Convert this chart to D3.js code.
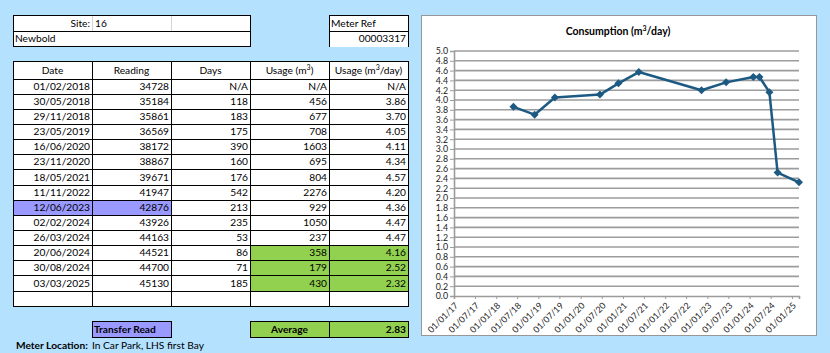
<!DOCTYPE html>
<html>
<head>
<meta charset="utf-8">
<script src="https://cdn.jsdelivr.net/npm/d3@7"></script>
<style>
  html, body { margin: 0; padding: 0; background: #b4e1fe; }
  svg { display: block; font-family: Lato, "Open Sans", sans-serif; }
  .cell-text { font-size: 10.2px; fill: #000; }
  .bold { font-weight: bold; }
  .grid line { stroke: #9c9c9c; stroke-width: 1.6; }
</style>
</head>
<body>
<div id="chart"></div>
<script>
// table data
const dates = ['01/02/2018', '30/05/2018', '29/11/2018', '23/05/2019', '16/06/2020', '23/11/2020',
  '18/05/2021', '11/11/2022', '12/06/2023', '02/02/2024', '26/03/2024', '20/06/2024',
  '30/08/2024', '03/03/2025'];
const readings = [34728, 35184, 35861, 36569, 38172, 38867, 39671, 41947, 42876, 43926, 44163,
  44521, 44700, 45130];
const days = ['N/A', 118, 183, 175, 390, 160, 176, 542, 213, 235, 53, 86, 71, 185];
const usage = ['N/A', 456, 677, 708, 1603, 695, 804, 2276, 929, 1050, 237, 358, 179, 430];
const usagePerDay = ['N/A', 3.86, 3.70, 4.05, 4.11, 4.34, 4.57, 4.20, 4.36, 4.47, 4.47, 4.16,
  2.52, 2.32];

const transferRows = ['12/06/2023'];
const averageRows = ['20/06/2024', '30/08/2024', '03/03/2025'];
const average = 2.83;

const site = '16';
const siteName = 'Newbold';
const meterRef = '00003317';
const meterLocation = 'In Car Park, LHS first Bay';

const headers = ['Date', 'Reading', 'Days', 'Usage (m|3|)', 'Usage (m|3|/day)'];

const W = 830, H = 353;
const PURPLE = '#9999ff', GREEN = '#92d050';

const svg = d3.select('#chart').append('svg')
  .attr('width', W)
  .attr('height', H);

svg.append('rect').attr('width', W).attr('height', H).attr('fill', '#b4e1fe');

const colX = [13, 92, 171, 250, 329, 408];
const colW = 79;

function addText(g, x, y, str, anchor, bold) {
  let t = g.append('text')
    .attr('class', 'cell-text' + (bold ? ' bold' : ''))
    .attr('x', x)
    .attr('y', y)
    .attr('text-anchor', anchor || 'start');
  // parts split on | ; odd parts are superscripts
  str.split('|').forEach((p, i) => {
    if (!p) return;
    let ts = t.append('tspan').text(p);
    if (i % 2 === 1) ts.attr('font-size', '7px').attr('dy', -4);
    else if (i > 0) ts.attr('dy', 4);
  });
  return t;
}

function box(g, x, y, w, h, fill) {
  g.append('rect')
    .attr('x', x + 0.5).attr('y', y + 0.5)
    .attr('width', w).attr('height', h)
    .attr('fill', fill || '#fff')
    .attr('stroke', '#000')
    .attr('stroke-width', 1)
    .attr('shape-rendering', 'crispEdges');
}

function cellText(g, col, y0, h, str, align, bold) {
  let x = colX[col];
  let tx = align === 'middle' ? x + colW / 2 : align === 'end' ? x + colW - 2 : x + 3;
  return addText(g, tx, y0 + h / 2 + 3.6, str, align, bold);
}

const table = svg.append('g').attr('class', 'table-g');

/* SITE BOX */
box(table, 13, 15, 237, 16);
box(table, 13, 31, 237, 15);
[92, 171].forEach((x) => {
  table.append('line')
    .attr('x1', x + 0.5).attr('x2', x + 0.5)
    .attr('y1', 16).attr('y2', 31)
    .attr('stroke', '#d4d4d4');
});
addText(table, 90, 26.5, 'Site:', 'end');
addText(table, 95, 26.5, site, 'start');
addText(table, 15, 42, siteName, 'start');

/* METER REF */
box(table, 329, 15, 79, 16);
table.append('rect').attr('x', 330).attr('y', 32).attr('width', 78).attr('height', 15).attr('fill', '#fff');
table.append('line').attr('x1', 329.5).attr('x2', 329.5).attr('y1', 31).attr('y2', 47)
  .attr('stroke', '#000').attr('shape-rendering', 'crispEdges');
table.append('line').attr('x1', 408.5).attr('x2', 408.5).attr('y1', 31).attr('y2', 47)
  .attr('stroke', '#000').attr('shape-rendering', 'crispEdges');
addText(table, 331, 26.5, 'Meter Ref', 'start');
addText(table, 406, 42, meterRef, 'end');

/* MAIN TABLE */
const tableTop = 61;
const headH = 17.5;
const rowH = 15.15;
const rowY = (i) => Math.round(tableTop + headH + i * rowH);

headers.forEach((hd, c) => {
  box(table, colX[c], tableTop, colW, rowY(0) - tableTop);
  cellText(table, c, tableTop + 1, headH, hd, 'middle');
});

const columns = [dates, readings, days, usage, usagePerDay];

for (let r = 0; r < dates.length + 1; r++) {
  let y0 = rowY(r);
  let h = rowY(r + 1) - y0;
  columns.forEach((col, c) => {
    let fill = '#fff';
    let v = col[r];
    if (r < dates.length) {
      if (transferRows.includes(dates[r]) && c < 2) fill = PURPLE;
      if (averageRows.includes(dates[r]) && c > 2) fill = GREEN;
    }
    box(table, colX[c], y0, colW, h, fill);
    if (v === undefined) return;
    let str = c === 4 && v !== 'N/A' ? v.toFixed(2) : String(v);
    cellText(table, c, y0, h, str, 'end');
  });
}

/* FOOTER */
const footY = 321;
box(table, colX[1], footY, colW, 16, PURPLE);
addText(table, colX[1] + 2, footY + 12, 'Transfer Read', 'start', true);
box(table, colX[3], footY, colW, 16, GREEN);
box(table, colX[4], footY, colW, 16, GREEN);
addText(table, colX[3] + colW / 2, footY + 12, 'Average', 'middle', true);
addText(table, colX[4] + colW - 2, footY + 12, average.toFixed(2), 'end', true);

addText(table, 16, 349, 'Meter Location:', 'start', true);
addText(table, 92, 349, meterLocation, 'start');

/* CHART */
const parse = d3.utcParse('%d/%m/%Y');
const points = dates
  .map((d, i) => ({ date: parse(d), value: usagePerDay[i] }))
  .filter((d) => d.value !== 'N/A');

const chart = svg.append('g').attr('class', 'chart-g');

chart.append('rect')
  .attr('x', 421.5).attr('y', 15.5)
  .attr('width', 395).attr('height', 320)
  .attr('fill', '#fff')
  .attr('stroke', '#979797');

const plot = { left: 454, right: 799, top: 51, bottom: 296 };

const x = d3.scaleUtc()
  .domain([Date.UTC(2017, 0, 1), Date.UTC(2025, 2, 3)])
  .range([plot.left, plot.right]);

const y = d3.scaleLinear()
  .domain([0, 5])
  .range([plot.bottom, plot.top]);

const yTicks = d3.range(0, 26).map((i) => i / 5);
const xTicks = d3.utcMonth.every(6).range(new Date(Date.UTC(2017, 0, 1)), new Date(Date.UTC(2025, 0, 2)));

chart.append('g')
  .attr('class', 'grid')
  .selectAll('line')
  .data(yTicks.slice(1))
  .enter()
  .append('line')
  .attr('x1', plot.left)
  .attr('x2', plot.right)
  .attr('y1', (d) => y(d))
  .attr('y2', (d) => y(d));

let yAxis = chart.append('g')
  .attr('transform', `translate(${plot.left},0)`)
  .call(d3.axisLeft(y).tickValues(yTicks).tickSize(4).tickPadding(2).tickFormat(d3.format('.1f')));

let xAxis = chart.append('g')
  .attr('transform', `translate(0,${plot.bottom})`)
  .call(d3.axisBottom(x).tickValues(xTicks).tickSize(3).tickFormat(d3.utcFormat('%d/%m/%y')));

[yAxis, xAxis].forEach((a) => {
  a.select('.domain').attr('stroke', '#9c9c9c').attr('stroke-width', 1.6);
  a.selectAll('.tick line').attr('stroke', '#9c9c9c');
  a.selectAll('text')
    .attr('fill', '#1a1a1a')
    .style('font-family', 'Lato, sans-serif')
    .style('font-size', '8.8px');
});

xAxis.selectAll('text')
  .attr('text-anchor', 'end')
  .attr('y', 0)
  .attr('dy', '0.35em')
  .attr('transform', 'translate(2,8) rotate(-45)');

chart.append('text')
  .attr('x', 618)
  .attr('y', 35)
  .attr('text-anchor', 'middle')
  .style('font-size', '10.5px')
  .style('font-weight', 'bold')
  .call((t) => {
    t.append('tspan').text('Consumption (m');
    t.append('tspan').text('3').attr('font-size', '7px').attr('dy', -4);
    t.append('tspan').text('/day)').attr('dy', 4);
  });

const line = d3.line()
  .x((d) => x(d.date))
  .y((d) => y(d.value));

chart.append('path')
  .datum(points)
  .attr('d', line)
  .attr('fill', 'none')
  .attr('stroke', '#1d5a83')
  .attr('stroke-width', 2.5)
  .attr('stroke-linejoin', 'round');

chart.selectAll('.marker')
  .data(points)
  .enter()
  .append('path')
  .attr('class', 'marker')
  .attr('d', d3.symbol(d3.symbolSquare, 32))
  .attr('transform', (d) => `translate(${x(d.date)},${y(d.value)}) rotate(45)`)
  .attr('fill', '#1d5a83');
</script>
</body>
</html>
